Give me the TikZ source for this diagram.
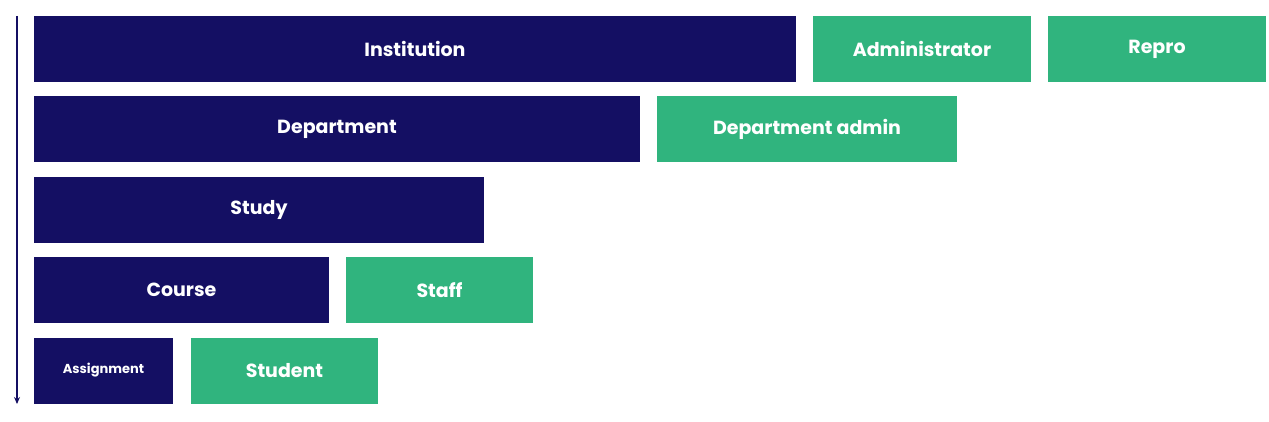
\documentclass[tikz,border=0pt]{standalone}
\usepackage{fontspec}
\setmainfont{Poppins}
\usetikzlibrary{arrows.meta}
\definecolor{navy}{HTML}{140F63}
\definecolor{grn}{HTML}{30B47E}
\tikzset{
  box/.style={inner sep=0pt, outer sep=0pt, text=white, font=\fontsize{19}{22}\selectfont\bfseries, minimum height=66pt},
  nb/.style={box, fill=navy},
  gb/.style={box, fill=grn},
}
\begin{document}
\begin{tikzpicture}[x=1pt,y=-1pt]
\useasboundingbox (0,0) rectangle (1269,422);
\node[nb, minimum width=762pt] (inst) at (415,49) {Institution};
\node[gb, minimum width=218pt] (adm) at (922,49) {Administrator};
\node[gb, minimum width=218pt] (rep) at (1157,49) {Repro};
\node[nb, minimum width=606pt] (dep) at (337,129) {Department};
\node[gb, minimum width=300pt] (depa) at (807,129) {Department admin};
\node[nb, minimum width=450pt] (stu) at (259,210) {Study};
\node[nb, minimum width=295pt] (cou) at (181.5,290) {Course};
\node[gb, minimum width=187pt] (sta) at (439.5,290) {Staff};
\node[nb, minimum width=139pt, font=\fontsize{13}{16}\selectfont\bfseries] (ass) at (103.5,370.5) {Assignment};
\node[gb, minimum width=187pt] (std) at (284.5,370.5) {Student};
\coordinate (a1) at (17,16);
\coordinate (a2) at (17,404);
\draw[navy, line width=1.2pt, -{Stealth[length=7pt,width=6pt]}] (a1) -- (a2);
\end{tikzpicture}
\end{document}
